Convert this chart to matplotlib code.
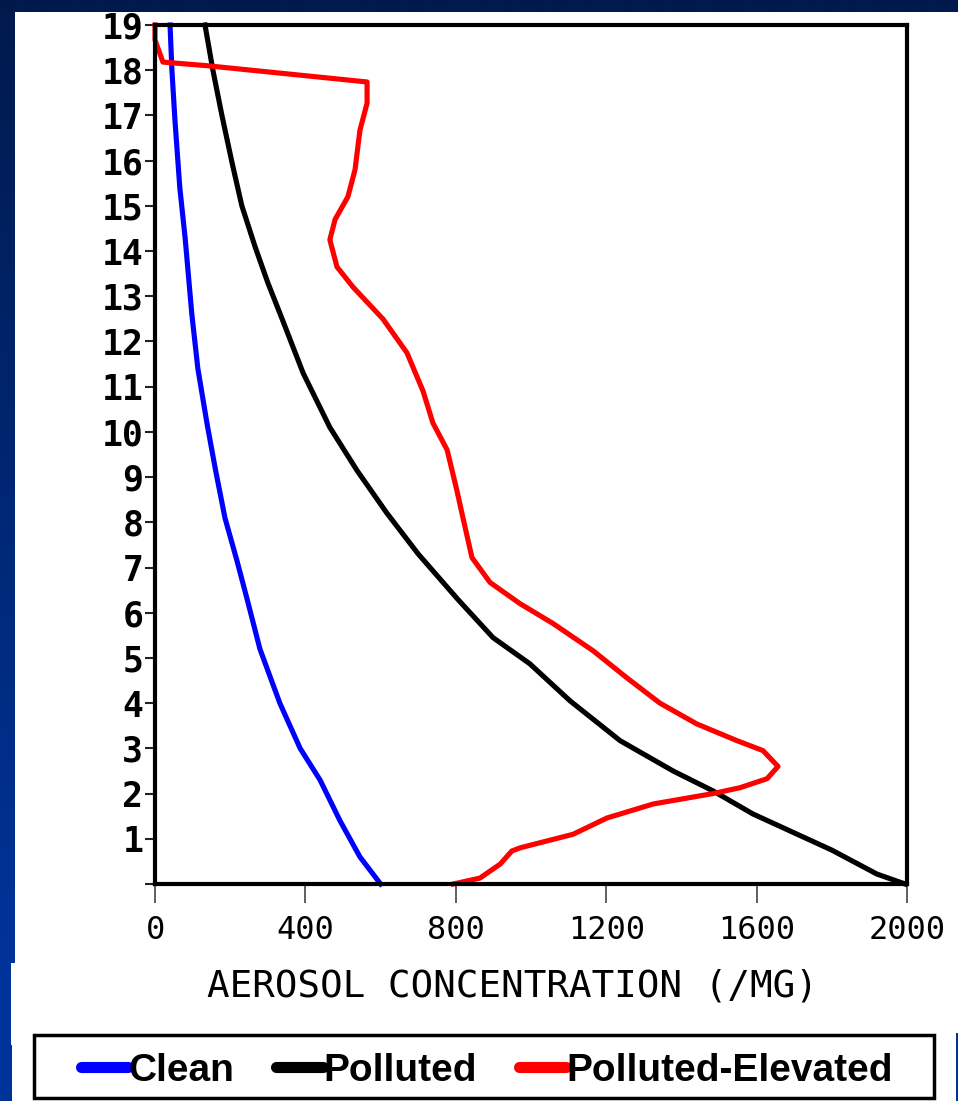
import numpy as np
import matplotlib.pyplot as plt
from matplotlib.patches import Rectangle
from matplotlib.colors import LinearSegmentedColormap

# altitude (km) and aerosol concentration (/mg) for each profile
clean_alt = [0, 0.6, 1.4, 2.3, 3.0, 4.0, 5.2, 6.3, 7.15, 8.1, 9.2, 10.2,
             11.4, 12.6, 14.3, 15.4, 16.9, 18.0, 19.0]
clean_conc = [600, 545, 492, 439, 386, 332, 279, 245, 218, 186, 160, 138,
              114, 98, 80, 66, 53, 45, 40]

polluted_alt = [0, 0.22, 0.75, 1.55, 2.06, 2.5, 3.17, 4.05, 4.87, 5.45, 6.3,
                7.3, 8.2, 9.15, 10.1, 11.3, 12.5, 13.3, 14.1, 15.0, 15.95,
                17.0, 18.0, 19.0]
polluted_conc = [1995, 1920, 1800, 1590, 1484, 1378, 1237, 1104, 997, 899, 805,
                 700, 617, 537, 465, 394, 338, 300, 266, 231, 205,
                 178, 154, 133]

elevated_alt = [0, 0.13, 0.44, 0.73, 0.8, 1.1, 1.46, 1.77, 2.0, 2.13, 2.33,
                2.6, 2.95, 3.17, 3.54, 4.0, 4.56, 5.16, 5.76, 6.2, 6.67, 7.22,
                8.1, 8.7, 9.6, 10.2, 10.9, 11.75, 12.5, 13.2, 13.65, 14.25,
                14.7, 15.2, 15.8, 16.67, 17.27, 17.74, 18.1, 18.18, 18.67, 19.0]
elevated_conc = [793, 864, 918, 949, 971, 1112, 1202, 1325, 1484, 1556, 1628,
                 1657, 1617, 1548, 1441, 1343, 1255, 1165, 1059, 971, 891, 843,
                 819, 803, 777, 739, 713, 670, 606, 527, 484, 465,
                 479, 513, 532, 545, 564, 564, 138, 21, 0, 0]

x_ticks = [0, 400, 800, 1200, 1600, 2000]
y_ticks = list(range(0, 20))
y_labels = [''] + [str(i) for i in range(1, 20)]

W, H = 958, 1101
fig = plt.figure(figsize=(W / 100, H / 100), dpi=100)
fig.patch.set_facecolor('white')

# slide background strips
def strip(x0, y0, x1, y1, top_col, bot_col):
    a = fig.add_axes([x0 / W, 1 - y1 / H, (x1 - x0) / W, (y1 - y0) / H])
    grad = np.linspace(0, 1, 256)[:, None]
    cm = LinearSegmentedColormap.from_list('g', [top_col, bot_col])
    a.imshow(grad, aspect='auto', cmap=cm, extent=[0, 1, 0, 1])
    a.set_axis_off()

strip(0, 0, 15, 963, '#001a4d', '#003399')
strip(0, 0, W, 12, '#001a4d', '#001a4d')
strip(0, 963, 11, 1045, '#003399', '#003399')
strip(0, 1045, 12, H, '#003399', '#003399')
strip(956, 1033, W, H, '#003399', '#003399')

ax = fig.add_axes([155 / W, 1 - 884 / H, 752 / W, 859 / H])
ax.set_facecolor('white')

lw = 3.7
ax.plot(clean_conc, clean_alt, color='#0000ff', lw=lw, label='Clean', clip_on=False)
ax.plot(polluted_conc, polluted_alt, color='black', lw=lw, label='Polluted', clip_on=False)
ax.plot(elevated_conc, elevated_alt, color='#ff0000', lw=lw, label='Polluted-Elevated',
        clip_on=False)

ax.set_xlim(0, 2000)
ax.set_ylim(0, 19)
for s in ax.spines.values():
    s.set_linewidth(3)
    s.set_color('black')

ax.set_yticks(y_ticks)
ax.set_yticklabels(y_labels, family='DejaVu Sans Mono', weight='bold', fontsize=25)
ax.set_xticks(x_ticks)
ax.set_xticklabels([str(v) for v in x_ticks], family='DejaVu Sans Mono', fontsize=23)
ax.tick_params(axis='y', direction='out', length=7, width=1.5, pad=1.5, color='#222222')
ax.tick_params(axis='x', direction='out', length=14, width=1.2, pad=8, color='#444444')

fig.text(512 / W, 1 - 987 / H, 'AEROSOL CONCENTRATION (/MG)', ha='center', va='center',
         family='DejaVu Sans Mono', fontsize=27)

# legend box below the plot
fig.patches.append(Rectangle((34 / W, 1 - 1098 / H), 900 / W, 63 / H,
                             transform=fig.transFigure, fill=False,
                             edgecolor='black', lw=2.5))
leg = fig.legend(loc='center', bbox_to_anchor=(487 / W, 1 - 1071 / H), ncol=3,
                 frameon=False, handlelength=1.2, handletextpad=0.02,
                 columnspacing=1.08,
                 prop={'family': 'Liberation Sans', 'weight': 'bold', 'size': 28})
for ln in leg.get_lines():
    ln.set_linewidth(8)
    ln.set_solid_capstyle('round')

fig.savefig('out.png', dpi=100)
